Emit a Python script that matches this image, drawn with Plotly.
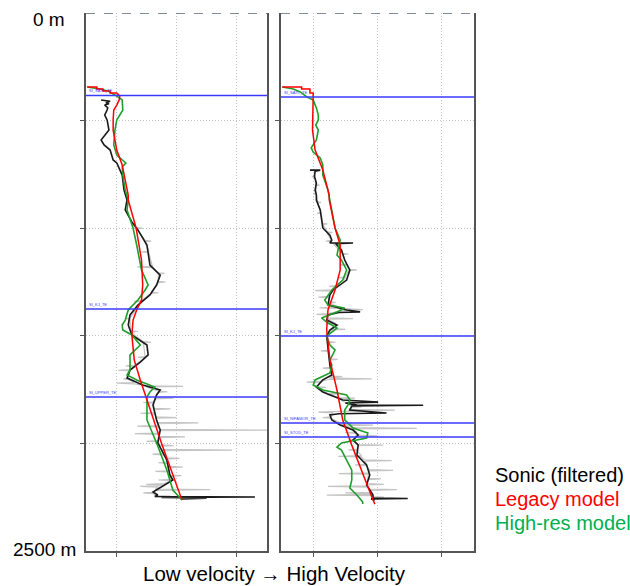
import plotly.graph_objects as go

W, H = 630, 586

# ---------------- data (depth in m, relative velocity 0-3) ----------------
# Left well
L_red_d = [344, 344, 353, 353, 362, 362, 372, 372, 386, 404, 428, 451, 497, 544, 637, 706, 846, 869, 999, 1148, 1264, 1334, 1380, 1427, 1496, 1613, 1705, 1798, 1998, 2263]
L_red_v = [0.02, 0.18, 0.18, 0.28, 0.28, 0.40, 0.40, 0.51, 0.56, 0.55, 0.51, 0.46, 0.45, 0.45, 0.51, 0.60, 0.70, 0.70, 0.83, 0.92, 0.94, 0.92, 0.84, 0.78, 0.76, 0.80, 0.90, 1.01, 1.25, 1.59]

L_grn_d = [344, 349, 353, 362, 372, 386, 404, 451, 474, 497, 544, 613, 660, 683, 697, 716, 753, 823, 869, 915, 999, 1078, 1194, 1264, 1287, 1334, 1380, 1427, 1450, 1473, 1496, 1543, 1589, 1659, 1682, 1705, 1738, 1761, 1784, 1891, 1998, 2124, 2217, 2263]
L_grn_v = [0.02, 0.15, 0.23, 0.36, 0.43, 0.51, 0.60, 0.61, 0.56, 0.51, 0.48, 0.46, 0.51, 0.61, 0.66, 0.60, 0.61, 0.65, 0.70, 0.68, 0.78, 0.84, 0.92, 1.03, 0.98, 0.86, 0.70, 0.65, 0.60, 0.61, 0.76, 0.90, 0.73, 0.73, 0.68, 0.84, 1.14, 1.06, 1.01, 1.01, 1.17, 1.34, 1.44, 1.59]

L_blk_d = [404, 410, 416, 422, 428, 440, 451, 474, 497, 544, 590, 613, 637, 683, 697, 730, 753, 823, 869, 915, 971, 1008, 1078, 1171, 1218, 1264, 1310, 1357, 1403, 1450, 1496, 1543, 1589, 1622, 1659, 1696, 1729, 1752, 1775, 1822, 1891, 1938, 1998, 2077, 2147, 2170, 2207, 2226, 2240, 2247, 2249, 2251, 2255, 2258]
L_blk_v = [0.25, 0.40, 0.33, 0.38, 0.31, 0.36, 0.35, 0.31, 0.35, 0.38, 0.25, 0.30, 0.40, 0.45, 0.51, 0.56, 0.60, 0.63, 0.68, 0.65, 0.76, 0.86, 1.01, 1.06, 1.23, 1.17, 1.06, 0.86, 0.73, 0.70, 0.76, 1.01, 1.03, 0.90, 0.73, 0.68, 0.94, 1.23, 1.17, 1.11, 1.17, 1.23, 1.19, 1.34, 1.39, 1.44, 1.23, 1.11, 1.19, 1.14, 2.80, 1.25, 2.00, 1.59]

# raw sonic spikes: depth, local base value, spike tip value
L_raw_d = [1000, 1060, 1110, 1180, 1210, 1250, 1300, 1340, 1420, 1480, 1530, 1600, 1640, 1660, 1700, 1720, 1735, 1760, 1790, 1810, 1840, 1860, 1880, 1905, 1920, 1938, 1955, 1970, 1990, 2010, 2031, 2050, 2070, 2090, 2110, 2130, 2150, 2170, 2190, 2200, 2215, 2230, 2245]
L_raw_base = [0.84, 0.98, 1.04, 1.10, 1.20, 1.20, 1.08, 0.92, 0.73, 0.74, 0.95, 0.98, 0.80, 0.73, 0.70, 0.80, 1.00, 1.20, 1.15, 1.12, 1.13, 1.14, 1.16, 1.18, 1.20, 1.22, 1.20, 1.20, 1.20, 1.22, 1.25, 1.28, 1.32, 1.34, 1.36, 1.37, 1.39, 1.42, 1.30, 1.20, 1.15, 1.12, 1.15]
L_raw_tip = [0.94, 1.08, 0.92, 0.85, 1.30, 1.32, 1.20, 0.80, 0.66, 0.86, 1.08, 0.86, 0.66, 0.53, 0.62, 0.51, 1.61, 1.35, 1.45, 0.95, 1.40, 0.90, 1.50, 1.86, 0.85, 3.00, 0.81, 1.64, 1.00, 1.45, 2.42, 1.10, 1.55, 1.20, 1.60, 1.15, 1.58, 1.20, 1.00, 0.90, 2.06, 0.95, 1.40]

# Right well
R_red_d = [344, 344, 353, 353, 372, 372, 390, 451, 544, 637, 730, 846, 869, 999, 1078, 1194, 1287, 1380, 1473, 1613, 1752, 1891, 2008, 2263, 2282]
R_red_v = [0.02, 0.32, 0.32, 0.45, 0.45, 0.50, 0.50, 0.50, 0.49, 0.53, 0.65, 0.75, 0.75, 0.84, 0.92, 0.92, 0.84, 0.73, 0.71, 0.76, 0.87, 0.96, 1.10, 1.43, 1.46]

R_grn_d = [344, 353, 367, 390, 404, 441, 474, 497, 520, 544, 590, 627, 646, 674, 706, 753, 823, 869, 999, 1055, 1125, 1148, 1194, 1241, 1287, 1334, 1357, 1371, 1389, 1417, 1436, 1464, 1501, 1543, 1566, 1613, 1636, 1673, 1705, 1729, 1752, 1775, 1798, 1822, 1845, 1891, 1929, 1952, 1975, 1998, 2017, 2031, 2077, 2124, 2170, 2207, 2240, 2272, 2282]
R_grn_v = [0.02, 0.19, 0.30, 0.40, 0.50, 0.55, 0.58, 0.58, 0.54, 0.58, 0.55, 0.47, 0.50, 0.61, 0.65, 0.65, 0.73, 0.76, 0.84, 0.92, 0.87, 0.94, 1.02, 0.96, 0.79, 0.68, 0.73, 0.99, 0.87, 0.63, 0.71, 0.87, 0.71, 0.76, 0.84, 0.76, 0.79, 0.76, 0.53, 0.50, 0.65, 1.02, 1.07, 1.04, 0.99, 0.99, 1.12, 1.35, 1.33, 0.94, 0.87, 0.94, 1.02, 1.10, 1.10, 1.07, 1.18, 1.27, 1.27]

R_blk_d = [730, 730, 735, 760, 790, 823, 846, 869, 915, 999, 1032, 1055, 1069, 1069, 1072, 1101, 1148, 1194, 1241, 1287, 1310, 1357, 1380, 1389, 1392, 1403, 1427, 1450, 1473, 1501, 1566, 1636, 1682, 1705, 1738, 1761, 1798, 1808, 1812, 1822, 1823, 1826, 1845, 1859, 1862, 1868, 1891, 1915, 1938, 1961, 1984, 2008, 2054, 2100, 2147, 2193, 2240, 2254, 2256, 2258, 2263]
R_blk_v = [0.45, 0.61, 0.53, 0.52, 0.55, 0.53, 0.55, 0.55, 0.61, 0.65, 0.76, 0.79, 0.76, 1.12, 0.85, 0.94, 0.99, 1.07, 1.02, 0.81, 0.76, 0.73, 1.02, 1.23, 0.90, 0.73, 0.71, 0.87, 0.76, 0.71, 0.73, 0.76, 0.79, 0.65, 0.55, 0.65, 0.96, 1.51, 1.00, 1.18, 2.21, 1.10, 1.07, 1.64, 0.90, 0.76, 0.79, 0.92, 1.12, 1.20, 1.12, 1.20, 1.18, 1.33, 1.38, 1.33, 1.43, 1.43, 1.97, 1.40, 1.46]

R_raw_d = [760, 800, 840, 880, 930, 980, 1020, 1060, 1120, 1170, 1194, 1230, 1270, 1290, 1320, 1345, 1370, 1378, 1400, 1420, 1445, 1470, 1500, 1530, 1570, 1610, 1650, 1690, 1700, 1715, 1740, 1770, 1790, 1830, 1845, 1855, 1880, 1905, 1915, 1930, 1950, 1965, 1985, 2008, 2030, 2060, 2080, 2100, 2125, 2140, 2165, 2190, 2200, 2215, 2230, 2240, 2250]
R_raw_base = [0.53, 0.54, 0.55, 0.57, 0.62, 0.65, 0.72, 0.78, 0.96, 1.02, 1.05, 1.00, 0.85, 0.80, 0.74, 0.74, 0.90, 1.00, 0.73, 0.72, 0.85, 0.78, 0.72, 0.72, 0.73, 0.75, 0.77, 0.78, 0.75, 0.60, 0.58, 0.72, 0.90, 1.10, 1.05, 0.80, 0.78, 0.90, 0.95, 1.10, 1.18, 1.16, 1.14, 1.20, 1.18, 1.25, 1.30, 1.33, 1.37, 1.36, 1.35, 1.33, 1.35, 1.38, 1.40, 1.42, 1.43]
R_raw_tip = [0.48, 0.60, 0.50, 0.62, 0.56, 0.72, 0.80, 0.70, 1.05, 0.92, 1.18, 0.90, 0.75, 0.53, 0.58, 0.85, 0.60, 1.27, 0.55, 1.12, 0.70, 1.00, 0.60, 0.85, 0.62, 0.88, 0.65, 0.95, 1.41, 0.40, 0.70, 0.90, 1.15, 1.25, 1.77, 0.58, 0.65, 1.10, 1.43, 2.11, 1.00, 1.50, 1.05, 1.59, 1.05, 0.89, 1.72, 1.15, 1.74, 0.90, 1.55, 1.60, 0.73, 1.80, 1.00, 0.71, 1.60]

# Formation tops (depth m, label)
L_tops_d = [383, 1375, 1784]
L_tops_lbl = ["SI_SA7L_TE", "SI_KJ_TE", "SI_UPPER_TE"]
R_tops_d = [390, 1501, 1905, 1970]
R_tops_lbl = ["SI_SA7L_TE", "SI_KJ_TE", "SI_NIFAMOR_TE", "SI_STOD_TE"]

depth_ticks = [500, 1000, 1500, 2000]
vel_ticks = [0.5, 1.5, 2.5]
depth_range = [2500, 0]
vel_range = [0, 3]

GREY = "#c4c4c4"
BLACK = "#1a1a1a"
RED = "#ff0000"
GREEN = "#1f9e2c"
BLUE = "#3a3aff"
FONT = "Liberation Sans, Arial, sans-serif"


def spikes(depths, base, tip, half=3):
    ys, xs = [], []
    for d, b, t in zip(depths, base, tip):
        ys += [d - half, d, d + half]
        xs += [b, t, b]
    return xs, ys


fig = go.Figure()

for (xa, ya, rd, rb, rt, bd, bv, gd, gv, dd, dv) in [
    ("x", "y", L_raw_d, L_raw_base, L_raw_tip, L_blk_d, L_blk_v, L_grn_d, L_grn_v, L_red_d, L_red_v),
    ("x2", "y2", R_raw_d, R_raw_base, R_raw_tip, R_blk_d, R_blk_v, R_grn_d, R_grn_v, R_red_d, R_red_v),
]:
    sx, sy = spikes(rd, rb, rt)
    fig.add_trace(go.Scatter(x=sx, y=sy, xaxis=xa, yaxis=ya, mode="lines",
                             line=dict(color=GREY, width=1.2), showlegend=False))
    fig.add_trace(go.Scatter(x=bv, y=bd, xaxis=xa, yaxis=ya, mode="lines",
                             line=dict(color=BLACK, width=1.6), showlegend=False))
    fig.add_trace(go.Scatter(x=gv, y=gd, xaxis=xa, yaxis=ya, mode="lines",
                             line=dict(color=GREEN, width=1.6), showlegend=False))
    fig.add_trace(go.Scatter(x=dv, y=dd, xaxis=xa, yaxis=ya, mode="lines",
                             line=dict(color=RED, width=1.5), showlegend=False))

ydom = [35 / H, 573 / H]
ax_common = dict(showgrid=True, gridcolor="#c4c4c4", griddash="1px,2px", gridwidth=1,
                 showticklabels=False, ticks="outside", ticklen=4, tickcolor="#555",
                 showline=True, linecolor="#555555", linewidth=1.5, zeroline=False)

fig.update_layout(
    width=W, height=H, margin=dict(l=0, r=0, t=0, b=0),
    paper_bgcolor="white", plot_bgcolor="white", showlegend=False,
    xaxis=dict(domain=[86 / W, 267 / W], range=vel_range, tickvals=vel_ticks, anchor="y", **ax_common),
    yaxis=dict(domain=ydom, range=depth_range, tickvals=depth_ticks, anchor="x", mirror=True, **ax_common),
    xaxis2=dict(domain=[281 / W, 474 / W], range=vel_range, tickvals=vel_ticks, anchor="y2", **ax_common),
    yaxis2=dict(domain=ydom, range=depth_range, tickvals=depth_ticks, anchor="x2", mirror=True, **ax_common),
)

shapes = []
annotations = []
for xa, ya in [("x", "y"), ("x2", "y2")]:
    shapes.append(dict(type="line", xref=f"{xa} domain", yref=ya, x0=0, x1=1, y0=0, y1=0,
                       line=dict(color="#556677", width=1.5, dash="dash")))
for xa, ya, tops, lbls in [("x", "y", L_tops_d, L_tops_lbl), ("x2", "y2", R_tops_d, R_tops_lbl)]:
    for d, lb in zip(tops, lbls):
        shapes.append(dict(type="line", xref=f"{xa} domain", yref=ya, x0=0, x1=1, y0=d, y1=d,
                           line=dict(color=BLUE, width=1.5)))
        annotations.append(dict(text=lb, xref=f"{xa} domain", yref=ya, x=0.005, y=d,
                                xanchor="left", yanchor="bottom", showarrow=False,
                                font=dict(size=4, color=BLUE, family=FONT)))

annotations += [
    dict(text="0 m", xref="paper", yref="paper", x=67 / W, y=1 - 20 / H, xanchor="right",
         yanchor="middle", showarrow=False, font=dict(size=19, color="black", family=FONT)),
    dict(text="2500 m", xref="paper", yref="paper", x=78 / W, y=1 - 549 / H, xanchor="right",
         yanchor="middle", showarrow=False, font=dict(size=19, color="black", family=FONT)),
    dict(text="Low velocity \u2192 High Velocity", xref="paper", yref="paper", x=274 / W,
         y=1 - 573 / H, xanchor="center", yanchor="middle", showarrow=False,
         font=dict(size=20.5, color="black", family=FONT)),
    dict(text="Sonic (filtered)", xref="paper", yref="paper", x=493 / W, y=1 - 475 / H,
         xanchor="left", yanchor="middle", showarrow=False, font=dict(size=20, color="black", family=FONT)),
    dict(text="Legacy model", xref="paper", yref="paper", x=493 / W, y=1 - 499 / H,
         xanchor="left", yanchor="middle", showarrow=False, font=dict(size=20, color="#ff0000", family=FONT)),
    dict(text="High-res model", xref="paper", yref="paper", x=493 / W, y=1 - 523 / H,
         xanchor="left", yanchor="middle", showarrow=False, font=dict(size=20, color="#00b050", family=FONT)),
]

fig.update_layout(shapes=shapes, annotations=annotations)
fig.write_html("out.html", config={"displayModeBar": False},
               post_script="document.body.style.margin='0px';")
